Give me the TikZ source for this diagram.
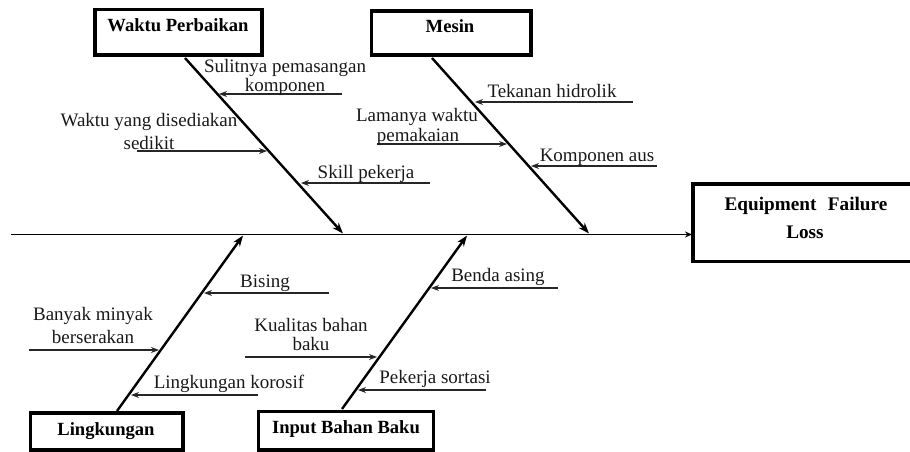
\documentclass[tikz,border=0pt]{standalone}
\usepackage{fontspec}
\setmainfont{Liberation Serif}
\usetikzlibrary{arrows.meta}

\tikzset{
  box/.style={draw=black, line width=3.6pt},
  title/.style={anchor=base, inner sep=0pt, font=\fontsize{18.6}{20}\selectfont\bfseries},
  lbl/.style={anchor=base, inner sep=0pt, text=black!90, font=\fontsize{19}{20}\selectfont},
  spine/.style={draw=black, line width=1.3pt, -{Stealth[length=7pt,width=6pt]}},
  bone/.style={draw=black, line width=2.4pt, -{Stealth[length=11pt,width=8pt]}},
  cause/.style={draw=black!85, line width=1.2pt, -{Stealth[length=8pt,width=6pt]}},
}

\begin{document}
\begin{tikzpicture}[x=1pt, y=-1pt]
  \useasboundingbox (0,0) rectangle (910,452);

  % category boxes
  \draw[box] (94.7,9.5) rectangle (261.7,55) node[pos=.5, inner sep=0] (wpBox) {};
  \draw[box] (371.3,11.3) rectangle (531,55.3) node[pos=.5, inner sep=0] (msBox) {};
  \draw[box] (30.3,413) rectangle (183,450) node[pos=.5, inner sep=0] (lkBox) {};
  \draw[box] (258.5,411.5) rectangle (433.5,450) node[pos=.5, inner sep=0] (ibBox) {};
  \draw[box] (692.8,184) rectangle (915,261.3) node[pos=.5, inner sep=0] (efBox) {};

  \node[title] (wpTitle) at (178,32) {Waktu Perbaikan};
  \node[title] (msTitle) at (450,33) {Mesin};
  \node[title] (lkTitle) at (106,435) {Lingkungan};
  \node[title] (ibTitle) at (346,433) {Input Bahan Baku};
  \node[title, font=\fontsize{19.2}{20}\selectfont\bfseries] (efTitle1) at (806,210) {Equipment\hskip0.6em Failure};
  \node[title, font=\fontsize{19.2}{20}\selectfont\bfseries] (efTitle2) at (805,238) {Loss};

  % spine
  \coordinate (spL) at (11,234.5);
  \coordinate (spR) at (692,234.5);
  \draw[spine] (spL) -- (spR);

  % main bones
  \coordinate (wpTop) at (185,58);   \coordinate (wpEnd) at (343,233.5);
  \coordinate (msTop) at (432,58);   \coordinate (msEnd) at (589,233.5);
  \coordinate (lkBot) at (117,411);  \coordinate (lkEnd) at (243,235.5);
  \coordinate (ibBot) at (342,409);  \coordinate (ibEnd) at (467,235.5);
  \draw[bone] (wpTop) -- (wpEnd);
  \draw[bone] (msTop) -- (msEnd);
  \draw[bone] (lkBot) -- (lkEnd);
  \draw[bone] (ibBot) -- (ibEnd);

  % causes: Waktu Perbaikan
  \coordinate (c1s) at (342,94);  \coordinate (c1e) at (219,94);
  \coordinate (c2s) at (137,151); \coordinate (c2e) at (267,151);
  \coordinate (c3s) at (430,183); \coordinate (c3e) at (301,183);
  \draw[cause] (c1s) -- (c1e);
  \draw[cause] (c2s) -- (c2e);
  \draw[cause] (c3s) -- (c3e);
  \node[lbl] (t1a) at (285,73) {Sulitnya pemasangan};
  \node[lbl] (t1b) at (285,92) {komponen};
  \node[lbl] (t2a) at (149,126) {Waktu yang disediakan};
  \node[lbl] (t2b) at (149,149) {sedikit};
  \node[lbl] (t3) at (366,178) {Skill pekerja};

  % causes: Mesin
  \coordinate (c4s) at (633,102); \coordinate (c4e) at (475,102);
  \coordinate (c5s) at (377,144); \coordinate (c5e) at (507,144);
  \coordinate (c6s) at (657,166); \coordinate (c6e) at (531,166);
  \draw[cause] (c4s) -- (c4e);
  \draw[cause] (c5s) -- (c5e);
  \draw[cause] (c6s) -- (c6e);
  \node[lbl] (t4) at (552,97) {Tekanan hidrolik};
  \node[lbl] (t5a) at (417,121) {Lamanya waktu};
  \node[lbl] (t5b) at (418,141) {pemakaian};
  \node[lbl] (t6) at (597,161) {Komponen aus};

  % causes: Lingkungan
  \coordinate (c7s) at (329,293); \coordinate (c7e) at (204,293);
  \coordinate (c8s) at (29,350);  \coordinate (c8e) at (159,350);
  \coordinate (c9s) at (258,395); \coordinate (c9e) at (131,395);
  \draw[cause] (c7s) -- (c7e);
  \draw[cause] (c8s) -- (c8e);
  \draw[cause] (c9s) -- (c9e);
  \node[lbl] (t7) at (265,287) {Bising};
  \node[lbl] (t8a) at (93,320) {Banyak minyak};
  \node[lbl] (t8b) at (93,343) {berserakan};
  \node[lbl] (t9) at (229,388) {Lingkungan korosif};

  % causes: Input Bahan Baku
  \coordinate (c10s) at (558,288); \coordinate (c10e) at (431,288);
  \coordinate (c11s) at (245,357); \coordinate (c11e) at (377,357);
  \coordinate (c12s) at (486,390); \coordinate (c12e) at (358,390);
  \draw[cause] (c10s) -- (c10e);
  \draw[cause] (c11s) -- (c11e);
  \draw[cause] (c12s) -- (c12e);
  \node[lbl] (t10) at (498,281) {Benda asing};
  \node[lbl] (t11a) at (311,331) {Kualitas bahan};
  \node[lbl] (t11b) at (311,350) {baku};
  \node[lbl] (t12) at (435,383) {Pekerja sortasi};
\end{tikzpicture}
\end{document}
